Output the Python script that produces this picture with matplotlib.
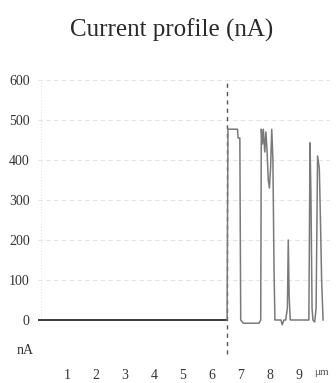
import matplotlib
matplotlib.use("Agg")
import matplotlib.pyplot as plt

# probe position along the scan (um) and measured current (nA)
pos_um = [0.05, 6.52, 6.55, 6.88, 6.90, 6.96, 6.99, 7.08, 7.62, 7.68,
          7.70, 7.74, 7.77, 7.82, 7.86, 7.90, 7.94, 7.98, 8.02, 8.06,
          8.10, 8.14, 8.17, 8.38, 8.42, 8.48, 8.54, 8.60, 8.63, 8.66,
          8.70, 8.74, 9.34, 9.38, 9.41, 9.45, 9.48, 9.54, 9.59, 9.64,
          9.70, 9.74, 9.78, 9.83]
current_na = [0, 0, 477, 477, 455, 455, 0, -8, -8, 0,
              477, 440, 477, 420, 470, 420, 350, 330, 380, 477,
              400, 120, 0, 0, -12, 0, 0, 30, 200, 60,
              0, 0, 0, 443, 320, 30, 0, -5, 30, 410,
              380, 250, 100, 0]

ytick_vals = [0, 100, 200, 300, 400, 500, 600]
xtick_vals = [1, 2, 3, 4, 5, 6, 7, 8, 9]
boundary_um = 6.50

serif = ["Liberation Serif", "DejaVu Serif"]

fig = plt.figure(figsize=(3.36, 3.83), dpi=100)
ax = fig.add_axes([38 / 336, 17 / 383, 292 / 336, 291 / 383])

# faint background grid
for v in ytick_vals[1:]:
    ax.axhline(v, color="#e4e4e4", lw=0.8, ls=(0, (4, 3)), zorder=0)
ax.axvline(0.1, ymin=0.16, ymax=0.98, color="#e6e6e6", lw=0.8, ls=":", zorder=0)

# dashed boundary marker
ax.axvline(boundary_um, ymin=0.04, ymax=0.98, color="#555555", lw=1.0,
           ls=(0, (3, 3)), zorder=1)

# flat region drawn darker, pulses lighter
split = pos_um.index(6.52) + 1
ax.plot(pos_um[:split], current_na[:split], color="#3a3a3a", lw=1.4, zorder=2)
ax.plot(pos_um[split - 1:], current_na[split - 1:], color="#7a7a7a", lw=1.1, zorder=2)

ax.set_xlim(0, 292 / 29)
ax.set_ylim(-115, 612.5)
ax.set_xticks(xtick_vals)
ax.set_xticklabels([str(v) for v in xtick_vals], family=serif, fontsize=10, color="#333333")
ax.set_yticks(ytick_vals)
ax.set_yticklabels([str(v) for v in ytick_vals], family=serif, fontsize=10, color="#333333")
ax.tick_params(axis="x", length=0, pad=2)
ax.tick_params(axis="y", length=0, pad=6)
for s in ax.spines.values():
    s.set_visible(False)

ax.text(-13 / 29, -75, "nA", ha="center", va="center", family=serif,
        fontsize=10, color="#333333")
ax.text(9.78, -0.008, "μm", transform=ax.get_xaxis_transform(), ha="center",
        va="top", family=serif, fontsize=8, color="#555555")

fig.text(172 / 336, 1 - 30 / 383, "Current profile (nA)", ha="center", va="center",
         family=serif, fontsize=18, color="#2a2a2a")

fig.savefig("out.png", dpi=100)
